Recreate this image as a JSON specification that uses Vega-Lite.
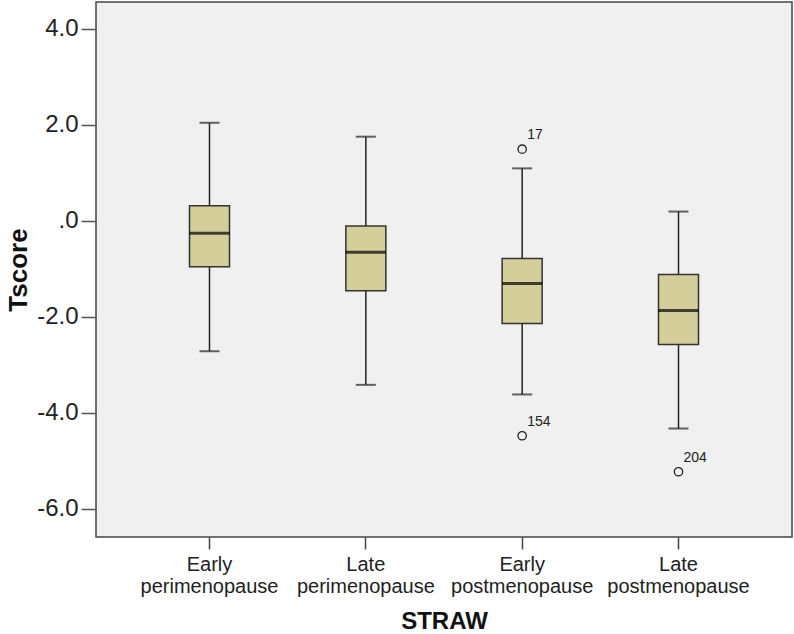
{
  "$schema": "https://vega.github.io/schema/vega-lite/v6.json",
  "width": 696,
  "height": 535,
  "autosize": {"type": "none"},
  "padding": {"left": 96, "top": 2, "right": 2, "bottom": 97},
  "background": "white",
  "config": {
    "view": {"fill": "#f0f0f0", "stroke": "#444444", "strokeWidth": 1.5},
    "font": "Liberation Sans"
  },
  "datasets": {
    "boxes": [
      {"STRAW": "Early perimenopause", "lower": -2.72, "q1": -0.96, "median": -0.26, "q3": 0.31, "upper": 2.04},
      {"STRAW": "Late perimenopause", "lower": -3.42, "q1": -1.46, "median": -0.66, "q3": -0.11, "upper": 1.75},
      {"STRAW": "Early postmenopause", "lower": -3.62, "q1": -2.14, "median": -1.31, "q3": -0.79, "upper": 1.09},
      {"STRAW": "Late postmenopause", "lower": -4.33, "q1": -2.58, "median": -1.87, "q3": -1.12, "upper": 0.19}
    ],
    "outliers": [
      {"STRAW": "Early postmenopause", "Tscore": 1.49, "id": "17"},
      {"STRAW": "Early postmenopause", "Tscore": -4.48, "id": "154"},
      {"STRAW": "Late postmenopause", "Tscore": -5.23, "id": "204"}
    ]
  },
  "encoding": {
    "x": {
      "field": "STRAW",
      "type": "nominal",
      "sort": ["Early perimenopause", "Late perimenopause", "Early postmenopause", "Late postmenopause"],
      "scale": {"paddingInner": 0, "paddingOuter": 0.226},
      "axis": {
        "title": "STRAW",
        "titleFontSize": 24,
        "titleFontWeight": "bold",
        "titleColor": "#111",
        "titlePadding": 13,
        "labelFontSize": 20,
        "labelColor": "#222",
        "labelAngle": 0,
        "labelExpr": "split(datum.label, ' ')",
        "labelLineHeight": 22,
        "labelPadding": 5,
        "tickSize": 12,
        "tickColor": "#444",
        "tickWidth": 1.5,
        "domain": false,
        "grid": false
      }
    }
  },
  "layer": [
    {
      "data": {"name": "boxes"},
      "mark": {"type": "rule", "color": "#222", "strokeWidth": 1.5},
      "encoding": {
        "y": {
          "field": "lower",
          "type": "quantitative",
          "scale": {"domain": [-6.59, 4.556], "nice": false, "zero": false},
          "axis": {
            "title": "Tscore",
            "titleFontSize": 26,
            "titleFontWeight": "bold",
            "titleColor": "#111",
            "titlePadding": 5,
            "values": [-6, -4, -2, 0, 2, 4],
            "labelExpr": "datum.value == 0 ? '.0' : (datum.value < 0 ? '-' + format(-datum.value, '.1f') : format(datum.value, '.1f'))",
            "labelFontSize": 24,
            "labelColor": "#222",
            "labelPadding": 3,
            "tickSize": 15,
            "tickColor": "#555",
            "tickWidth": 1.5,
            "domain": false,
            "grid": false
          }
        },
        "y2": {"field": "upper"}
      }
    },
    {
      "data": {"name": "boxes"},
      "mark": {"type": "tick", "size": 20, "thickness": 2, "color": "#222"},
      "encoding": {"y": {"field": "lower", "type": "quantitative"}}
    },
    {
      "data": {"name": "boxes"},
      "mark": {"type": "tick", "size": 20, "thickness": 2, "color": "#222"},
      "encoding": {"y": {"field": "upper", "type": "quantitative"}}
    },
    {
      "data": {"name": "boxes"},
      "mark": {"type": "bar", "size": 40, "fill": "#d4cf9a", "stroke": "#333", "strokeWidth": 1.5},
      "encoding": {
        "y": {"field": "q3", "type": "quantitative"},
        "y2": {"field": "q1"}
      }
    },
    {
      "data": {"name": "boxes"},
      "mark": {"type": "tick", "size": 40, "thickness": 3, "color": "#000"},
      "encoding": {"y": {"field": "median", "type": "quantitative"}}
    },
    {
      "data": {"name": "outliers"},
      "mark": {"type": "point", "shape": "circle", "filled": false, "size": 70, "stroke": "#222", "strokeWidth": 1.3, "opacity": 1},
      "encoding": {"y": {"field": "Tscore", "type": "quantitative"}}
    },
    {
      "data": {"name": "outliers"},
      "mark": {"type": "text", "align": "left", "baseline": "middle", "dx": 5, "dy": -14, "fontSize": 14, "color": "#222"},
      "encoding": {
        "y": {"field": "Tscore", "type": "quantitative"},
        "text": {"field": "id"}
      }
    }
  ]
}
